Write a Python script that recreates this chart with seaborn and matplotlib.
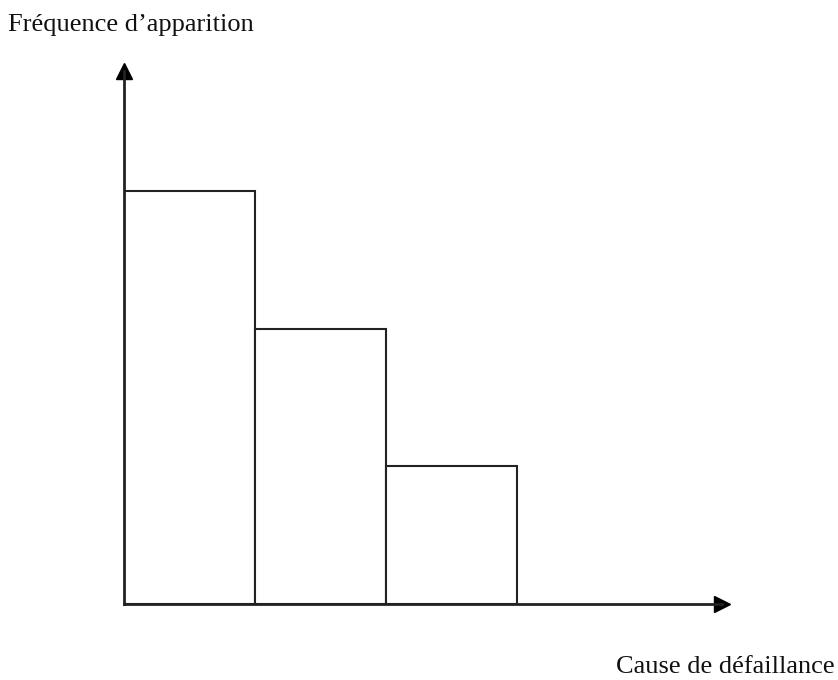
import matplotlib
matplotlib.use("Agg")
import matplotlib.pyplot as plt
import seaborn as sns
import pandas as pd

# Pareto-like sketch: three causes, decreasing frequency
causes = ["Cause 1", "Cause 2", "Cause 3"]
frequences = [3, 2, 1]

df = pd.DataFrame({"cause": causes, "frequence": frequences})

sns.set_theme(style="white")
plt.rcParams["font.family"] = ["Liberation Serif", "DejaVu Serif"]

fig = plt.figure(figsize=(8.38, 6.8), dpi=100)
ax = fig.add_axes([124 / 838, 76 / 680, (722 - 124) / 838, (604 - 71) / 680])

sns.barplot(data=df, x="cause", y="frequence", ax=ax, width=1.0,
            color="white", edgecolor="#222222", linewidth=1.5)

ax.set_xlim(-0.5, 4.065)
ax.set_ylim(0, 3.87)

# axes as arrows, no ticks
for side in ["top", "right"]:
    ax.spines[side].set_visible(False)
for side in ["left", "bottom"]:
    ax.spines[side].set_color("#222222")
    ax.spines[side].set_linewidth(2)
ax.plot(1, 0, ">", color="black", markersize=12, transform=ax.transAxes, clip_on=False)
ax.plot(0, 1, "^", color="black", markersize=12, transform=ax.transAxes, clip_on=False)
ax.set_xticks([])
ax.set_yticks([])
ax.set_xlabel("")
ax.set_ylabel("")

fig.text(8 / 838, 1 - 25 / 680, "Fréquence d’apparition", fontsize=19,
         va="center", ha="left", color="#111111")
fig.text(835 / 838, 1 - 667 / 680, "Cause de défaillance", fontsize=19,
         va="center", ha="right", color="#111111")

fig.savefig("out.png", dpi=100, facecolor="white")
